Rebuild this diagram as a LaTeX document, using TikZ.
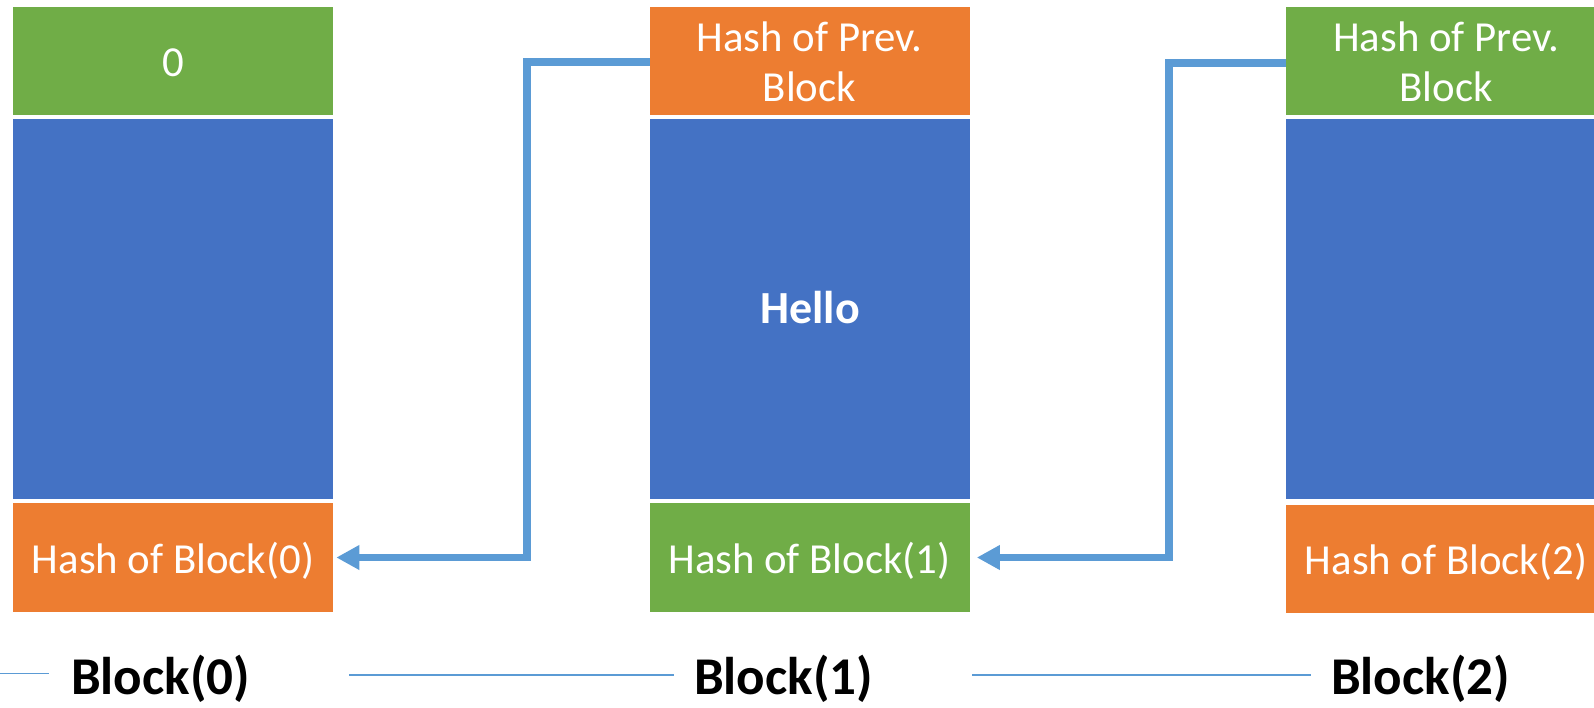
\documentclass[tikz,border=0pt]{standalone}
\usepackage{fontspec}
\setmainfont{Carlito}
\usetikzlibrary{arrows.meta}
\definecolor{cgreen}{HTML}{70AD47}
\definecolor{corange}{HTML}{ED7D31}
\definecolor{cblue}{HTML}{4472C4}
\definecolor{clink}{HTML}{5B9BD5}
\tikzset{
  cell/.style={inner sep=0pt, outer sep=0pt, minimum width=240pt},
  capbox/.style={cell, minimum height=81pt},
  bodybox/.style={cell, fill=cblue, minimum height=285pt},
  celltext/.style={text=white, inner sep=0pt, font=\fontsize{32.1}{37.5}\selectfont, align=center},
  hello/.style={text=white, inner sep=0pt, font=\fontsize{34.5}{40}\selectfont\bfseries},
  blocklabel/.style={text=black, inner sep=0pt, font=\fontsize{39.8}{46}\selectfont\bfseries},
  conn/.style={draw=clink, line width=5.6pt, -{Triangle[length=17.25pt,width=17.5pt]}},
  rule/.style={draw=clink, line width=1.1pt}
}
\begin{document}
\begin{tikzpicture}[x=0.75pt,y=-0.75pt]
\useasboundingbox (0,0) rectangle (1594,707);
\clip (0,0) rectangle (1594,707);
% Block 0
\node[capbox, fill=cgreen] (t0) at (173,61) {};
\node[bodybox] (m0) at (173,309) {};
\node[capbox, fill=corange, minimum height=81.75pt] (h0) at (173,557.5) {};
% Block 1
\node[capbox, fill=corange] (t1) at (809.5,61) {};
\node[bodybox] (m1) at (809.5,309) {};
\node[capbox, fill=cgreen, minimum height=81.75pt] (h1) at (809.5,557.5) {};
% Block 2
\node[capbox, fill=cgreen] (t2) at (1446,61) {};
\node[bodybox] (m2) at (1446,309) {};
\node[capbox, fill=corange] (h2) at (1446,559) {};
% texts
\node[celltext, anchor=base] (x0) at (173,76.7) {0};
\node[celltext, anchor=base] (y0) at (173,573) {Hash of Block(0)};
\node[celltext] (x1) at (809.5,62) {Hash of Prev.\\Block};
\node[hello, anchor=base] (hl) at (810,323.3) {Hello};
\node[celltext, anchor=base] (y1) at (809.5,573) {Hash of Block(1)};
\node[celltext] (x2) at (1446,62) {Hash of Prev.\\Block};
\node[celltext, anchor=base] (y2) at (1446,574) {Hash of Block(2)};
% connectors
\coordinate (k1) at (527,62);
\coordinate (k2) at (1169,63);
\draw[conn] (t1.west |- k1) -- (k1) -- (k1 |- h0.east) -- ([xshift=2.5pt]h0.east);
\draw[conn] (t2.west |- k2) -- (k2) -- (k2 |- h1.east) -- ([xshift=5.5pt]h1.east);
% baseline rules and labels
\coordinate (r0a) at (0,673.5);
\coordinate (r0b) at (49,673.5);
\coordinate (r1a) at (349,675);
\coordinate (r1b) at (674,675);
\coordinate (r2a) at (972,675);
\coordinate (r2b) at (1311,675);
\draw[rule] (r0a) -- (r0b);
\draw[rule] (r1a) -- (r1b);
\draw[rule] (r2a) -- (r2b);
\node[blocklabel, anchor=base] (l0) at (160.5,694) {Block(0)};
\node[blocklabel, anchor=base] (l1) at (783.5,694) {Block(1)};
\node[blocklabel, anchor=base] (l2) at (1420.5,694) {Block(2)};
\end{tikzpicture}
\end{document}
